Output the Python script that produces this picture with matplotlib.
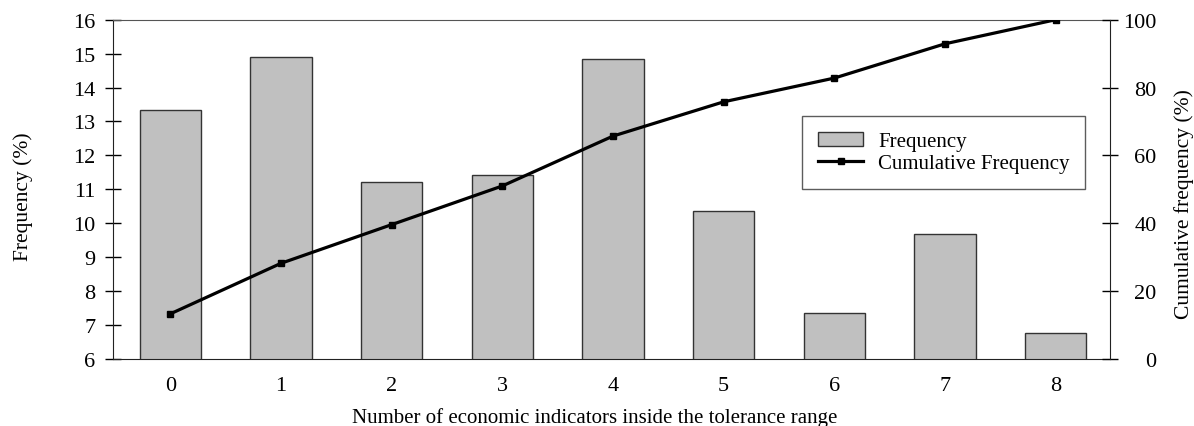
import numpy as np
import matplotlib
matplotlib.use('Agg')
import matplotlib.pyplot as plt
from matplotlib.lines import Line2D
from matplotlib.patches import Patch

plt.rcParams['font.family'] = ['Liberation Serif', 'DejaVu Serif']

# number of indicators inside the tolerance range
indicators = [0, 1, 2, 3, 4, 5, 6, 7, 8]
freq = [13.35, 14.91, 11.21, 11.41, 14.85, 10.35, 7.35, 9.68, 6.78]
cum_freq = [13.3, 28.2, 39.6, 51.0, 65.7, 75.8, 82.8, 92.9, 100.0]

yticks_left = [6, 7, 8, 9, 10, 11, 12, 13, 14, 15, 16]
yticks_right = [0, 20, 40, 60, 80, 100]

fig = plt.figure(figsize=(11.94, 4.27), dpi=100)
ax = fig.add_axes([0.0944, 0.1569, 0.8352, 0.7946])

ax.bar(indicators, freq, width=0.553, bottom=0, color='#c0c0c0',
       edgecolor='#333333', linewidth=1.0, zorder=2)
ax.set_xlim(-0.52, 8.49)
ax.set_ylim(6, 16)
ax.set_yticks(yticks_left)
ax.set_xticks(indicators)
ax.tick_params(axis='x', length=0, pad=12, labelsize=16)
ax.tick_params(axis='y', direction='inout', length=11, width=1, pad=7, labelsize=16)
ax.set_ylabel('Frequency (%)', fontsize=15.5, va='center')
ax.yaxis.set_label_coords(-0.0899, 0.48)
ax.set_xlabel('Number of economic indicators inside the tolerance range', fontsize=15, va='center')
ax.xaxis.set_label_coords(0.4836, -0.172)
for s in ['left', 'bottom']:
    ax.spines[s].set_color('#222222')
ax.spines['top'].set_color('#555555')
ax.spines['right'].set_visible(False)

ax2 = ax.twinx()
ax2.plot(indicators, cum_freq, '-', color='black', linewidth=2.3,
         marker='s', markersize=4, zorder=3)
ax2.set_ylim(0, 100)
ax2.set_yticks(yticks_right)
ax2.tick_params(axis='y', direction='inout', length=11, width=1, pad=28, labelsize=16)
for lab in ax2.get_yticklabels():
    lab.set_horizontalalignment('right')
ax2.set_ylabel('Cumulative frequency (%)', fontsize=15.5, va='center')
ax2.yaxis.set_label_coords(1.0742, 0.461)
ax2.spines['right'].set_color('#222222')
for s in ['top', 'left', 'bottom']:
    ax2.spines[s].set_visible(False)

handles = [Patch(facecolor='#c0c0c0', edgecolor='#333333', linewidth=1.0),
           Line2D([0], [0], color='black', linewidth=2.3, marker='s', markersize=4,
                  markevery=[0, -1])]
leg = ax2.legend(handles, ['Frequency', 'Cumulative Frequency'],
                 loc='upper left', bbox_to_anchor=(0.6912, 0.7162), borderaxespad=0,
                 fontsize=15, frameon=True, fancybox=False, borderpad=0.75,
                 handlelength=2.2, handletextpad=0.7, labelspacing=0.1)
leg.get_frame().set_edgecolor('#333333')
leg.get_frame().set_linewidth(1.0)

fig.savefig('out.png', dpi=100)
